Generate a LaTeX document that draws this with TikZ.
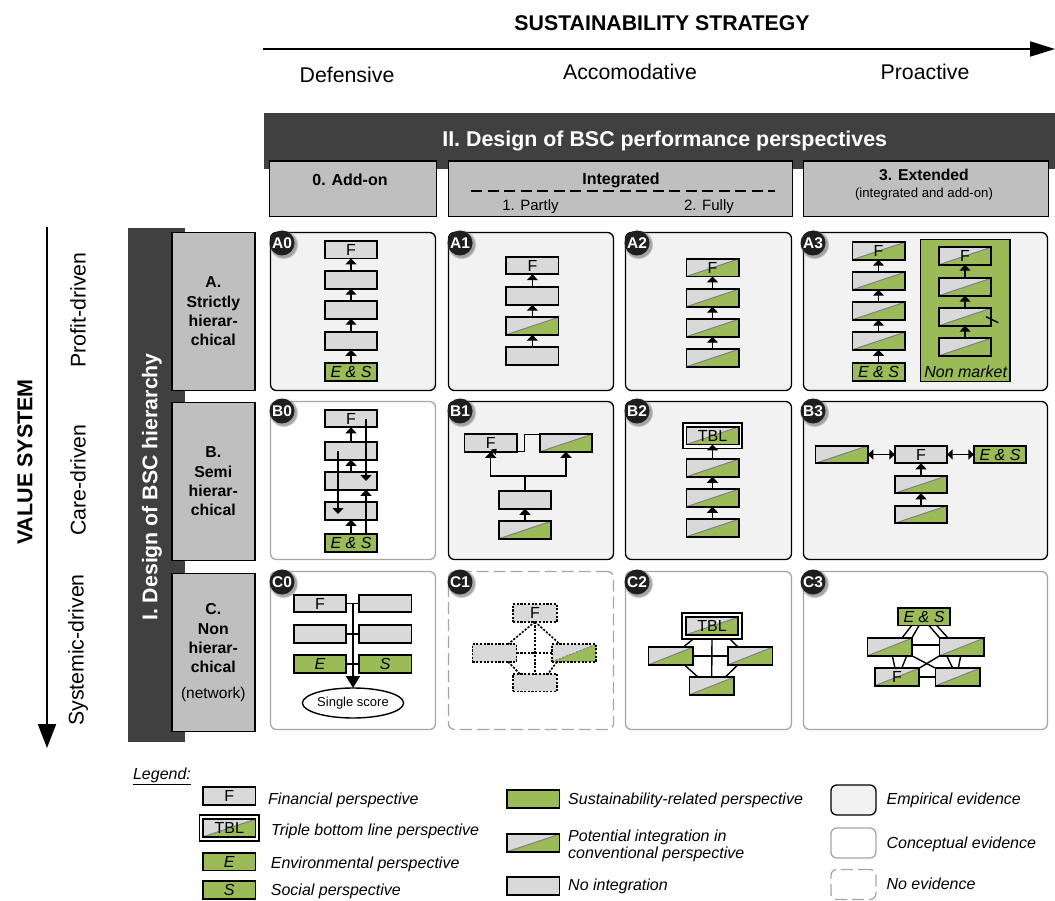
\documentclass[tikz,border=0pt]{standalone}
\usepackage{fontspec}
\setmainfont{Liberation Sans}
\usetikzlibrary{arrows.meta,calc,shadows,shapes.geometric}
\definecolor{bgreen}{HTML}{9BBB59}
\definecolor{bgray}{HTML}{D9D9D9}
\definecolor{hgray}{HTML}{BFBFBF}
\definecolor{darkb}{HTML}{404040}
\definecolor{panelf}{HTML}{F2F2F2}
\definecolor{pline}{HTML}{A6A6A6}
\newcommand{\fsz}[1]{\fontsize{#1}{#1}\selectfont}
\tikzset{
  boxbase/.style={draw=black,line width=1.7pt,inner sep=0pt,outer sep=0pt,minimum width=52.3,minimum height=17.5,font=\fsz{16}},
  gbox/.style={boxbase,fill=bgray},
  ebox/.style={boxbase,fill=bgreen,font=\fsz{16}\itshape},
  sbox/.style={boxbase,fill=bgray,path picture={
     \fill[bgreen] (path picture bounding box.south west)--(path picture bounding box.south east)--(path picture bounding box.north east)--cycle;
     \draw[gray,line width=1pt] (path picture bounding box.south west)--(path picture bounding box.north east);}},
  narrow/.style={minimum width=44.2},
  dotb/.style={line width=1.6pt,dash pattern=on 2.2pt off 1.5pt},
  tblout/.style={draw=black,line width=1.7pt,fill=white,inner sep=0pt,outer sep=0pt,minimum width=59.5,minimum height=25.5},
  emp/.style={draw=black,line width=1.3pt,fill=panelf,rounded corners=6pt,inner sep=0pt,outer sep=0pt},
  conc/.style={draw=pline,line width=1.3pt,fill=white,rounded corners=6pt,inner sep=0pt,outer sep=0pt},
  noev/.style={draw=pline,line width=1.3pt,fill=white,rounded corners=6pt,dash pattern=on 12pt off 5pt,inner sep=0pt,outer sep=0pt},
  badge/.style={circle,fill=black!88,text=white,font=\bfseries\fsz{15.5},inner sep=0pt,minimum size=25,
    circular drop shadow={shadow xshift=1.2pt,shadow yshift=-1.2pt,shadow scale=1.18,opacity=.7}},
  upar/.style={line width=1.4pt,-{Triangle[width=11pt,length=6pt]}},
  conn/.style={line width=1.4pt},
  side/.style={draw=black,line width=1.4pt,fill=hgray,inner sep=0pt,outer sep=0pt,align=center},
  leg/.style={anchor=west,inner sep=0pt,font=\fsz{16}\itshape,align=left},
  axis/.style={inner sep=0pt,font=\fsz{21.3}},
}
\begin{document}
\begin{tikzpicture}[x=1pt,y=-1pt]
\useasboundingbox (0,0) rectangle (1055,901);
% top axis
\node[inner sep=0pt,font=\bfseries\fsz{21.3}] (stitle) at (662,23) {SUSTAINABILITY STRATEGY};
\coordinate (ss) at (263,49); \coordinate (se) at (1055,49);
\draw[line width=2pt,-{Triangle[width=15pt,length=25pt]}] (ss) -- (se);
\node[axis] (def) at (347,75) {Defensive};
\node[axis] (acc) at (630,72) {Accomodative};
\node[axis] (pro) at (925,72) {Proactive};
% headers
\fill[darkb] (264,113) rectangle (1055,169.5);
\node[text=white,inner sep=0pt,font=\bfseries\fsz{21.4}] (h2) at (664.7,141) {II. Design of BSC performance perspectives};
\node[side,minimum width=166.5,minimum height=55.5] (h0) at (353,188.7) {};
\node[inner sep=0pt,font=\bfseries\fsz{16}] (h0t) at (350,180) {0. Add-on};
\node[side,minimum width=344.5,minimum height=55.5] (h1) at (620.5,188.7) {};
\node[inner sep=0pt,font=\bfseries\fsz{16}] (h1t) at (621,180) {Integrated};
\coordinate (da) at (471,191); \coordinate (db) at (775,191);
\draw[line width=1.4pt,dash pattern=on 11pt off 5.5pt] (da) -- (db);
\node[inner sep=0pt,font=\fsz{15}] (h1a) at (530.5,206.5) {1. Partly};
\node[inner sep=0pt,font=\fsz{15}] (h1b) at (709,206.5) {2. Fully};
\node[side,minimum width=245.5,minimum height=55.5] (h3) at (926,188.7) {};
\node[inner sep=0pt,font=\bfseries\fsz{15.7}] (h3t) at (924,175) {3. Extended};
\node[inner sep=0pt,font=\fsz{13.2}] (h3s) at (924,194) {(integrated and add-on)};
% left axis
\node[rotate=90,inner sep=0pt,font=\bfseries\fsz{21.5}] (vs) at (25,462) {VALUE SYSTEM};
\coordinate (vs1) at (47,227); \coordinate (vs2) at (47,748);
\draw[line width=2pt,-{Triangle[width=18pt,length=24pt]}] (vs1) -- (vs2);
\node[axis,rotate=90] (pd) at (78,310) {Profit-driven};
\node[axis,rotate=90] (cd) at (78,480) {Care-driven};
\node[axis,rotate=90] (sd) at (78,650) {Systemic-driven};
\fill[darkb] (128,228.5) rectangle (185,742);
\node[rotate=90,text=white,inner sep=0pt,font=\bfseries\fsz{21.3}] (h1v) at (152,487) {I. Design of BSC hierarchy};
\node[side,minimum width=83,minimum height=158,font=\bfseries\fontsize{15.8}{19.3}\selectfont] (sa) at (213.3,311.3) {A.\\Strictly\\hierar-\\chical};
\node[side,minimum width=83,minimum height=158,font=\bfseries\fontsize{15.8}{19.3}\selectfont] (sb) at (213.3,481.3) {B.\\Semi\\hierar-\\chical};
\node[side,minimum width=83,minimum height=158,font=\bfseries\fontsize{15.8}{19.3}\selectfont] (sc) at (213.3,652.5) {C.\\Non\\hierar-\\chical\\[6pt]{\mdseries\fsz{15.5}(network)}};
% panels
\node[emp,minimum width=165,minimum height=158] (pa0) at (353,311.5) {};
\node[emp,minimum width=165,minimum height=158] (pa1) at (531,311.5) {};
\node[emp,minimum width=166,minimum height=158] (pa2) at (708.5,311.5) {};
\node[emp,minimum width=244,minimum height=158] (pa3) at (925.5,311.5) {};
\node[conc,minimum width=165,minimum height=158] (pb0) at (353,480.5) {};
\node[emp,minimum width=165,minimum height=158] (pb1) at (531,480.5) {};
\node[emp,minimum width=166,minimum height=158] (pb2) at (708.5,480.5) {};
\node[emp,minimum width=244,minimum height=158] (pb3) at (925.5,480.5) {};
\node[conc,minimum width=165,minimum height=158] (pc0) at (353,650.5) {};
\node[noev,minimum width=165,minimum height=158] (pc1) at (531,650.5) {};
\node[conc,minimum width=166,minimum height=158] (pc2) at (708.5,650.5) {};
\node[conc,minimum width=244,minimum height=158] (pc3) at (925.5,650.5) {};
% A0
\node[gbox] (a0f) at (351,249.7) {F};
\node[gbox] (a0b) at (351,280) {};
\node[gbox] (a0c) at (351,310) {};
\node[gbox] (a0d) at (351,341) {};
\node[ebox] (a0e) at (351,372) {E \& S};
\draw[upar] (a0b.north) -- (a0f.south);
\draw[upar] (a0c.north) -- (a0b.south);
\draw[upar] (a0d.north) -- (a0c.south);
\draw[upar] (a0e.north) -- (a0d.south);
% A1
\node[gbox] (a1f) at (532.4,265.5) {F};
\node[gbox] (a1b) at (532.4,296) {};
\node[sbox] (a1c) at (532.4,326) {};
\node[gbox] (a1d) at (532.4,356) {};
\draw[upar] (a1b.north) -- (a1f.south);
\draw[upar] (a1c.north) -- (a1b.south);
\draw[upar] (a1d.north) -- (a1c.south);
% A2
\node[sbox] (a2f) at (712.5,267.7) {F};
\node[sbox] (a2b) at (712.5,298) {};
\node[sbox] (a2c) at (712.5,328) {};
\node[sbox] (a2d) at (712.5,358) {};
\draw[upar] (a2b.north) -- (a2f.south);
\draw[upar] (a2c.north) -- (a2b.south);
\draw[upar] (a2d.north) -- (a2c.south);
% A3
\node[sbox] (a3f) at (878.5,251) {F};
\node[sbox] (a3b) at (878.5,281) {};
\node[sbox] (a3c) at (878.5,311) {};
\node[sbox] (a3d) at (878.5,341) {};
\node[ebox] (a3e) at (878.5,372) {E \& S};
\draw[upar] (a3b.north) -- (a3f.south);
\draw[upar] (a3c.north) -- (a3b.south);
\draw[upar] (a3d.north) -- (a3c.south);
\draw[upar] (a3e.north) -- (a3d.south);
\node[draw=black,line width=1.7pt,fill=bgreen,inner sep=0pt,outer sep=0pt,minimum width=89.5,minimum height=142] (nm) at (965.2,310.6) {};
\node[inner sep=0pt,font=\fsz{16}\itshape] (nmt) at (965.7,372) {Non market};
\node[sbox] (n1) at (965,256) {F};
\node[sbox] (n2) at (965,287) {};
\node[sbox] (n3) at (965,317) {};
\node[sbox] (n4) at (965,347) {};
\draw[upar] (n2.north) -- (n1.south);
\draw[upar] (n3.north) -- (n2.south);
\draw[upar] (n4.north) -- (n3.south);
\draw[conn] ([xshift=21,yshift=0.3]n3.center) -- ([xshift=33.3,yshift=-5.7]n3.center);
% B0
\node[gbox] (b0f) at (351,418.5) {F};
\node[gbox] (b0b) at (351,451) {};
\node[gbox] (b0c) at (351,481) {};
\node[gbox] (b0d) at (351,511) {};
\node[ebox] (b0e) at (351,543) {E \& S};
\draw[upar] (b0b.north) -- (b0f.south);
\draw[upar] (b0c.north) -- (b0b.south);
\draw[upar] (b0e.north) -- (b0d.south);
\draw[upar] ([xshift=15]b0e.north) -- ([xshift=15]b0c.south);
\draw[upar] ([xshift=15]b0f.center) -- ([xshift=15]b0c.center);
\draw[upar] ([xshift=-13]b0b.center) -- ([xshift=-13,yshift=-3]b0d.center);
% B1
\node[gbox] (b1f) at (490.7,443) {F};
\node[sbox] (b1r) at (566,443) {};
\node[gbox] (b1m) at (525,500) {};
\node[sbox] (b1l) at (525,530) {};
\coordinate (b1j) at (525,476);
\coordinate (b1k) at (524.5,443);
\draw[upar] (b1l.north) -- (b1m.south);
\draw[conn] (b1m.north) -- (b1j);
\draw[upar] (b1j) -| (b1f.south);
\draw[upar] (b1j) -| (b1r.south);
\draw[conn] (b1f.south east) -| (b1k) |- (b1r.north west);
\draw[line width=1pt,-{Triangle[width=7pt,length=5pt]}] ([xshift=1,yshift=-2]b1f.south) -- ([xshift=6,yshift=3]b1f.south);
% B2
\node[tblout] (b2o) at (712.5,435.7) {};
\node[sbox] (b2t) at (712.5,435.7) {TBL};
\node[sbox] (b2b) at (712.5,468) {};
\node[sbox] (b2c) at (712.5,498) {};
\node[sbox] (b2d) at (712.5,528) {};
\draw[upar] (b2b.north) -- (b2t.south);
\draw[upar] (b2c.north) -- (b2b.south);
\draw[upar] (b2d.north) -- (b2c.south);
% B3
\node[gbox] (b3f) at (921,454.5) {F};
\node[sbox] (b3l) at (841.7,454.5) {};
\node[ebox] (b3e) at (1000,454.5) {E \& S};
\node[sbox] (b3b) at (921,484.5) {};
\node[sbox] (b3c) at (921,514.5) {};
\draw[upar] (b3b.north) -- (b3f.south);
\draw[upar] (b3c.north) -- (b3b.south);
\draw[line width=1.4pt,{Triangle[width=10pt,length=5.5pt]}-{Triangle[width=10pt,length=5.5pt]}] (b3l.east) -- (b3f.west);
\draw[line width=1.4pt,{Triangle[width=10pt,length=5.5pt]}-{Triangle[width=10pt,length=5.5pt]}] (b3f.east) -- (b3e.west);
% C0
\node[gbox] (c0a) at (320,603.5) {F};
\node[gbox] (c0b) at (385.3,603.5) {};
\node[gbox] (c0c) at (320,634) {};
\node[gbox] (c0d) at (385.3,634) {};
\node[ebox] (c0e) at (320,664) {E};
\node[ebox] (c0s) at (385.3,664) {S};
\node[draw=black,line width=1.4pt,fill=white,ellipse,inner sep=0pt,outer sep=0pt,minimum width=98,minimum height=30,font=\fsz{13}] (c0o) at (353,703) {Single score};
\draw[conn] (c0a.east) -- (c0b.west);
\draw[conn] (c0c.east) -- (c0d.west);
\draw[conn] (c0e.east) -- (c0s.west);
\coordinate (c0top) at (353,603.5);
\draw[line width=1.8pt,-{Triangle[width=14pt,length=12pt]}] (c0top) -- (c0o.north);
% C1
\node[gbox,narrow,dotb] (c1f) at (535,613) {F};
\node[gbox,narrow,dotb] (c1l) at (494.5,653) {};
\node[sbox,narrow,dotb] (c1r) at (574,653) {};
\node[gbox,narrow,dotb] (c1b) at (535,682.7) {};
\draw[conn,dotb] (c1f.south) -- (c1b.north);
\draw[conn,dotb] (c1l.east) -- (c1r.west);
\draw[conn,dotb] (c1f.south) -- ([xshift=13.5]c1l.north);
\draw[conn,dotb] (c1f.south) -- ([xshift=-14]c1r.north);
\draw[conn,dotb] ([xshift=13.5]c1l.south) -- ([xshift=-15]c1b.north);
\draw[conn,dotb] ([xshift=-17]c1r.south) -- ([xshift=13]c1b.north);
% C2
\node[tblout] (c2o) at (712,626) {};
\node[sbox] (c2t) at (712,626) {TBL};
\node[sbox,narrow] (c2l) at (670.7,656) {};
\node[sbox,narrow] (c2r) at (750.3,656) {};
\node[sbox,narrow] (c2b) at (711.7,686) {};
\draw[conn] (c2o.south) -- (c2b.north);
\draw[conn] (c2l.east) -- (c2r.west);
\draw[conn] ([xshift=-18.5]c2o.south) -- ([xshift=12.5]c2l.north);
\draw[conn] ([xshift=17.5]c2o.south) -- ([xshift=-12]c2r.north);
\draw[conn] ([xshift=13.5]c2l.south) -- ([xshift=-13.5]c2b.north);
\draw[conn] ([xshift=-12.5]c2r.south) -- ([xshift=13.5]c2b.north);
% C3
\node[ebox] (c3e) at (924,616.8) {E \& S};
\node[sbox,narrow] (c3l) at (889.7,647) {};
\node[sbox,narrow] (c3r) at (961.7,647) {};
\node[sbox,narrow] (c3f) at (897,677) {F};
\node[sbox,narrow] (c3b) at (957.7,677) {};
\draw[conn] ([xshift=-12.3]c3e.south) -- ([xshift=12]c3l.north);
\draw[conn] ([xshift=-5]c3e.south) -- ([xshift=22]c3l.north);
\draw[conn] ([xshift=5]c3e.south) -- ([xshift=-21.7]c3r.north);
\draw[conn] ([xshift=12.7]c3e.south) -- ([xshift=-13.4]c3r.north);
\draw[conn] ([xshift=2.6]c3l.south) -- ([xshift=-2]c3f.north);
\draw[conn] ([xshift=17]c3l.south) -- ([xshift=4.7]c3f.north);
\draw[conn] ([xshift=-15]c3r.south) -- ([xshift=-5]c3b.north);
\draw[conn] ([xshift=-1]c3r.south) -- ([xshift=0.6]c3b.north);
\draw[conn] ([yshift=2]c3l.east) -- ([yshift=2]c3r.west);
\draw[conn] (c3f.east) -- (c3b.west);
\draw[conn] (c3l.south east) -- (c3b.north west);
\draw[conn] (c3r.south west) -- (c3f.north east);
% badges
\foreach \nm/\px/\py in {A0/282/243,A1/460/243,A2/637/243,A3/813/243,B0/282/411,B1/460/411,B2/637/411,B3/813/411,C0/282/582,C1/460/582,C2/637/582,C3/813/582}{
  \node[badge] (bd\nm) at (\px,\py) {\nm};
}
% legend
\node[inner sep=0pt,font=\fsz{16}\itshape] (lg) at (162,776) {\underline{Legend:}};
\node[gbox] (l1) at (229.3,796) {F};
\node[leg] (l1t) at (268,800.5) {Financial perspective};
\node[tblout] (l2o) at (229.3,828) {};
\node[sbox] (l2) at (229.3,828) {TBL};
\node[leg] (l2t) at (271,831) {Triple bottom line perspective};
\node[ebox] (l3) at (229.3,861.7) {E};
\node[leg] (l3t) at (270.7,864) {Environmental perspective};
\node[ebox] (l4) at (229.3,890) {S};
\node[leg] (l4t) at (270.7,891) {Social perspective};
\node[ebox] (l5) at (533.2,799) {};
\node[leg] (l5t) at (568,800) {Sustainability-related perspective};
\node[sbox] (l6) at (533.2,843) {};
\node[leg,font=\fontsize{16}{16.3}\selectfont\itshape] (l6t) at (568,846) {Potential integration in\\conventional perspective};
\node[gbox] (l7) at (533.2,886) {};
\node[leg] (l7t) at (568,886) {No integration};
\node[emp,minimum width=45,minimum height=30] (l8) at (853.4,800) {};
\node[leg] (l8t) at (886.4,800) {Empirical evidence};
\node[conc,minimum width=45,minimum height=30] (l9) at (853.4,843) {};
\node[leg] (l9t) at (886.4,844) {Conceptual evidence};
\node[noev,minimum width=45,minimum height=30] (l10) at (853.4,884.5) {};
\node[leg] (l10t) at (886.4,884) {No evidence};
\end{tikzpicture}
\end{document}
